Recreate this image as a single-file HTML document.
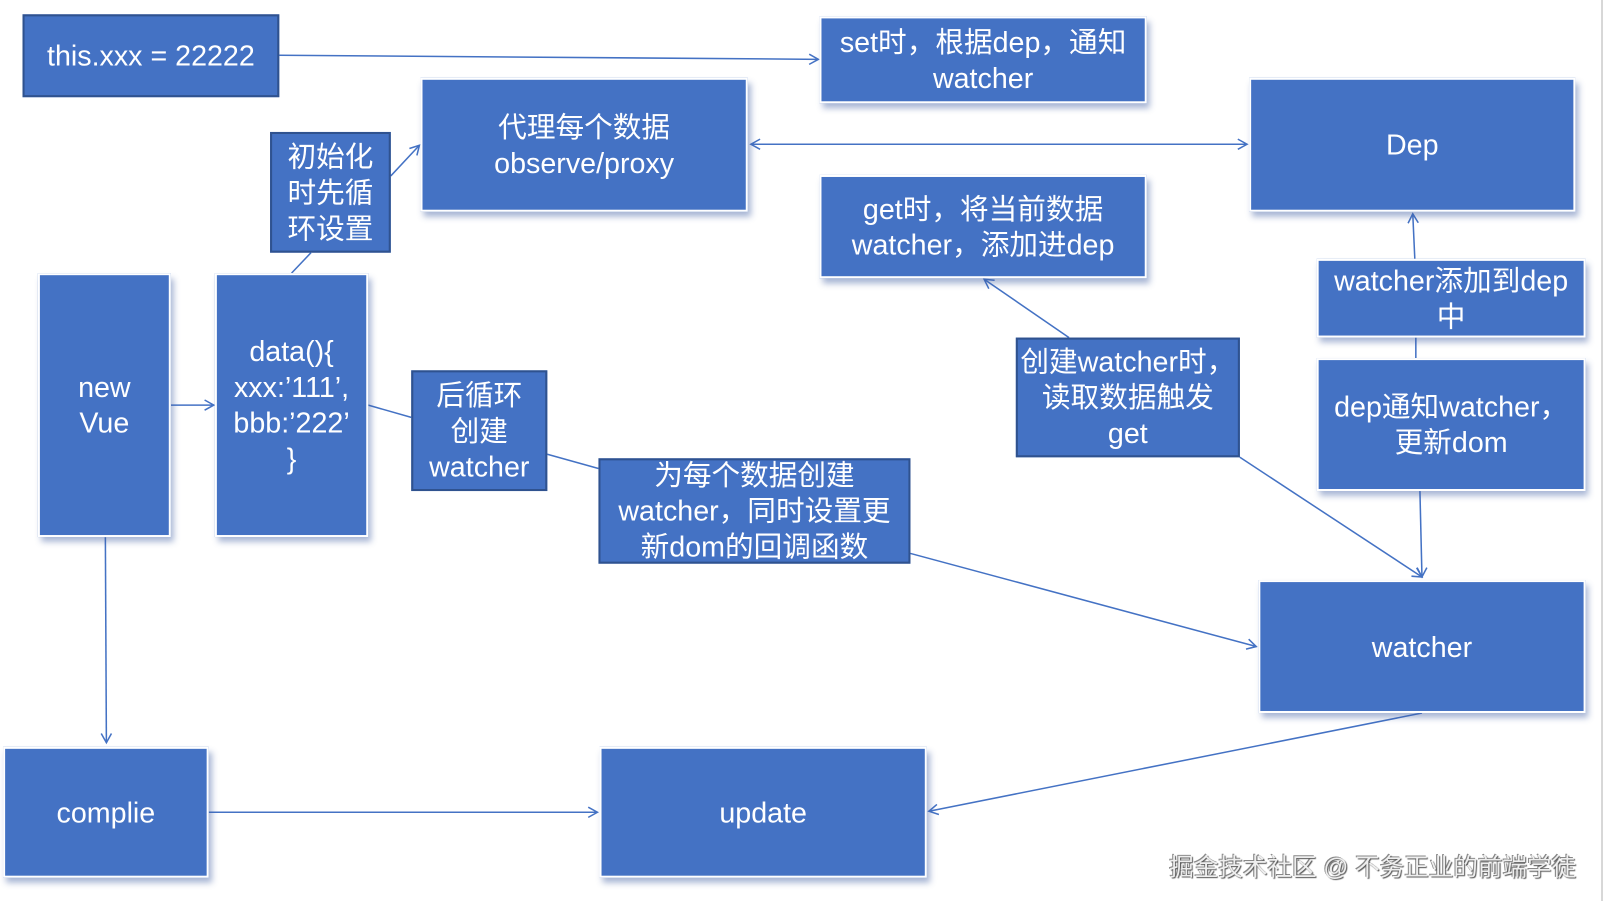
<!DOCTYPE html>
<html><head><meta charset="utf-8"><style>
html,body{margin:0;padding:0;background:#fff;overflow:hidden}
#w{position:relative;width:1568px;height:881px;transform:scale(1.023);transform-origin:0 0;font-family:"Liberation Sans","Noto Sans CJK SC",sans-serif}
.b{position:absolute;background:#4472C4;color:#fff;display:flex;align-items:center;justify-content:center;text-align:center;font-size:28px;line-height:35px;box-sizing:border-box;white-space:nowrap}
.s{border:2px solid #fff;box-shadow:3px 5px 6px rgba(60,90,160,.45)}
.d{border:2px solid #2F528F}
svg{position:absolute;left:0;top:0}
</style></head><body><div id="w">
<svg width="1568" height="881">
<defs><marker id="a" markerWidth="12" markerHeight="12" refX="10" refY="6" orient="auto-start-reverse" markerUnits="userSpaceOnUse"><path d="M1,1 L10,6 L1,11" fill="none" stroke="#4472C4" stroke-width="1.5"/></marker></defs>
<g stroke="#4472C4" stroke-width="1.5" fill="none">
<line x1="1566" y1="0" x2="1566" y2="881" stroke="#ccc"/>
<line x1="273" y1="54" x2="800" y2="58" marker-end="url(#a)"/>
<line x1="734" y1="141" x2="1219" y2="141" marker-end="url(#a)" marker-start="url(#a)"/>
<line x1="382" y1="172" x2="410" y2="142" marker-end="url(#a)"/>
<line x1="285" y1="267" x2="304" y2="247"/>
<line x1="167" y1="396" x2="209" y2="396" marker-end="url(#a)"/>
<line x1="360" y1="396" x2="402" y2="408"/>
<line x1="535" y1="444" x2="585" y2="458"/>
<line x1="890" y1="541" x2="1228" y2="632" marker-end="url(#a)"/>
<line x1="1045" y1="330" x2="962" y2="273" marker-end="url(#a)"/>
<line x1="1212" y1="447" x2="1390" y2="564" marker-end="url(#a)"/>
<line x1="1388" y1="480" x2="1390" y2="564" marker-end="url(#a)"/>
<line x1="1384" y1="350" x2="1384" y2="330"/>
<line x1="1383" y1="253" x2="1381" y2="209" marker-end="url(#a)"/>
<line x1="103" y1="525" x2="104" y2="726" marker-end="url(#a)"/>
<line x1="204" y1="794" x2="584" y2="794" marker-end="url(#a)"/>
<line x1="1390" y1="697" x2="908" y2="793" marker-end="url(#a)"/>
</g></svg>
<div class="b d" style="left:22px;top:14px;width:251px;height:81px">this.xxx = 22222</div>
<div class="b s" style="left:801px;top:16px;width:320px;height:85px">set时，根据dep，通知<br>watcher</div>
<div class="b s" style="left:411px;top:76px;width:320px;height:131px">代理每个数据<br>observe/proxy</div>
<div class="b s" style="left:1221px;top:76px;width:319px;height:131px">Dep</div>
<div class="b d" style="left:264px;top:129px;width:118px;height:118px">初始化<br>时先循<br>环设置</div>
<div class="b s" style="left:801px;top:171px;width:320px;height:101px">get时，将当前数据<br>watcher，添加进dep</div>
<div class="b s" style="left:1287px;top:253px;width:263px;height:77px">watcher添加到dep<br>中</div>
<div class="b s" style="left:37px;top:267px;width:130px;height:258px">new<br>Vue</div>
<div class="b s" style="left:210px;top:267px;width:150px;height:258px">data(){<br>xxx:’111’,<br>bbb:’222’<br>}</div>
<div class="b d" style="left:402px;top:362px;width:133px;height:118px">后循环<br>创建<br>watcher</div>
<div class="b d" style="left:993px;top:330px;width:219px;height:117px">创建watcher时，<br>读取数据触发<br>get</div>
<div class="b s" style="left:1287px;top:350px;width:263px;height:130px">dep通知watcher，<br>更新dom</div>
<div class="b d" style="left:585px;top:448px;width:305px;height:103px">为每个数据创建<br>watcher，同时设置更<br>新dom的回调函数</div>
<div class="b s" style="left:1230px;top:567px;width:320px;height:130px">watcher</div>
<div class="b s" style="left:3px;top:730px;width:201px;height:128px">complie</div>
<div class="b s" style="left:586px;top:730px;width:320px;height:128px">update</div>
<div style="position:absolute;left:1143px;top:828px;font-size:24px;color:#eee;text-shadow:1px 1px 1px #555,-1px -1px 0 #888">掘金技术社区 @ 不务正业的前端学徒</div>
</div></body></html>
